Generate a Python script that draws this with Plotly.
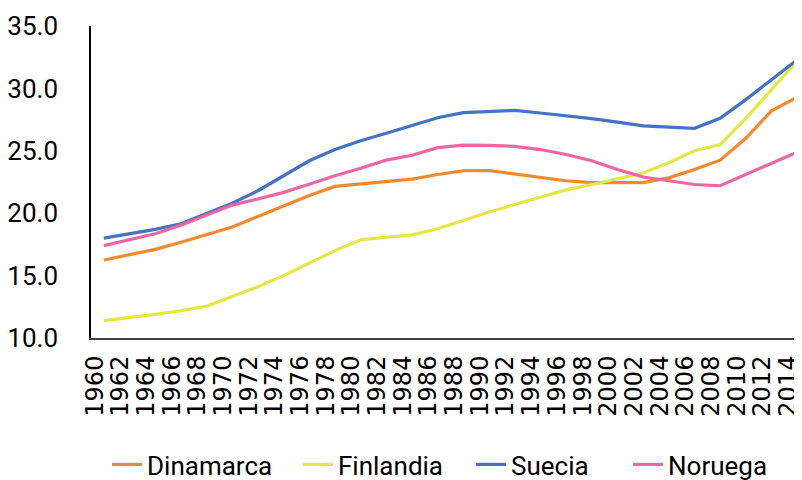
import plotly.graph_objects as go

years = list(range(1960, 2015, 2))

dinamarca = [16.25, 16.7, 17.1, 17.67, 18.26, 18.9, 19.74, 20.58, 21.42, 22.15,
             22.35, 22.54, 22.73, 23.1, 23.4, 23.42, 23.15, 22.9, 22.6, 22.45,
             22.45, 22.45, 22.83, 23.5, 24.25, 26.0, 28.2, 29.3]
finlandia = [11.39, 11.63, 11.89, 12.18, 12.55, 13.32, 14.1, 15.0, 16.0, 17.0,
             17.87, 18.06, 18.26, 18.75, 19.44, 20.1, 20.7, 21.3, 21.87, 22.3,
             22.76, 23.22, 24.04, 25.0, 25.5, 27.6, 29.9, 32.2]
suecia = [18.0, 18.35, 18.7, 19.15, 20.0, 20.8, 21.8, 23.0, 24.2, 25.1,
          25.8, 26.4, 27.0, 27.65, 28.06, 28.16, 28.24, 28.03, 27.83, 27.58,
          27.3, 27.0, 26.9, 26.8, 27.6, 29.1, 30.7, 32.3]
noruega = [17.4, 17.9, 18.35, 19.04, 19.84, 20.65, 21.14, 21.67, 22.32, 23.0,
           23.6, 24.25, 24.64, 25.25, 25.45, 25.44, 25.35, 25.1, 24.7, 24.2,
           23.5, 22.9, 22.6, 22.3, 22.2, 23.1, 24.05, 24.9]

series = [
    ("Dinamarca", dinamarca, "#F5892E", "legend", 149),
    ("Finlandia", finlandia, "#E6E645", "legend2", 340),
    ("Suecia", suecia, "#4673C1", "legend3", 513),
    ("Noruega", noruega, "#EF67A0", "legend4", 670),
]

W, H = 802, 480
ML, MR, MT, MB = 83, 0, 18, 143
plot_w = W - ML - MR
plot_h = H - MT - MB

fig = go.Figure()
for name, vals, color, leg, _ in series:
    fig.add_trace(go.Scatter(x=years, y=vals, name=name, mode="lines", legend=leg,
                             line=dict(color=color, width=3.2)))

label_font = "Roboto, sans-serif"
legend_y = (MT + plot_h - 467) / plot_h

legends = {}
for name, vals, color, leg, text_x in series:
    legends[leg] = dict(orientation="h", x=(text_x - 50 - ML) / plot_w, xanchor="left",
                        y=legend_y, yanchor="middle", bgcolor="rgba(0,0,0,0)",
                        font=dict(family=label_font, size=26, color="#000000"))

fig.update_layout(
    width=W, height=H,
    margin=dict(l=ML, r=MR, t=MT, b=MB),
    paper_bgcolor="white", plot_bgcolor="white",
    showlegend=True,
    xaxis=dict(range=[1959, 2015], tickmode="array", tickvals=years,
               ticktext=[str(y) for y in years], tickangle=-90,
               showgrid=False, zeroline=False, showline=True,
               linecolor="#404040", linewidth=2, ticks="",
               tickfont=dict(family="DejaVu Sans, sans-serif", size=24, color="#000000"),
               ticklabelstandoff=6, ticklabelshift=-9, ticklabeloverflow="allow"),
    yaxis=dict(range=[10, 35], tickmode="array", tickvals=[10, 15, 20, 25, 30, 35],
               ticktext=["10.0", "15.0", "20.0", "25.0", "30.0", "35.0"],
               showgrid=False, zeroline=False, showline=True,
               linecolor="#000000", linewidth=1.5, ticks="",
               tickfont=dict(family=label_font, size=26, color="#000000"),
               ticklabelstandoff=26),
    **legends,
)

fig.write_html("out.html")
